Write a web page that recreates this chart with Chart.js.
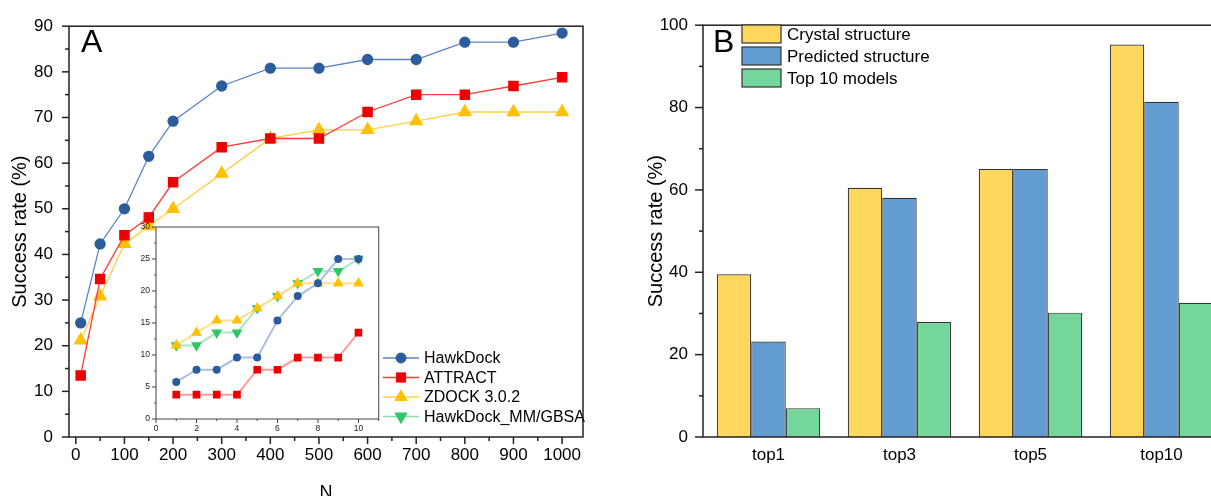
<!DOCTYPE html>
<html>
<head>
<meta charset="utf-8">
<script src="https://cdn.jsdelivr.net/npm/chart.js@4.4.0/dist/chart.umd.min.js"></script>
<style>
  html, body { margin: 0; padding: 0; background: #fff; overflow: hidden; }
  #wrap { position: relative; width: 1211px; height: 496px; overflow: hidden; }
  .box { position: absolute; }
  #boxA { left: 0; top: 0; }
  #boxInset { left: 130px; top: 215px; }
  #boxB { left: 600px; top: 0; }
</style>
</head>
<body>
<div id="wrap">
  <div class="box" id="boxA"><canvas id="chartA" width="600" height="520"></canvas></div>
  <div class="box" id="boxInset"><canvas id="chartInset" width="255" height="225"></canvas></div>
  <div class="box" id="boxB"><canvas id="chartB" width="640" height="520"></canvas></div>
</div>
<script>
// panel A, main plot
const nValues = [10, 50, 100, 150, 200, 300, 400, 500, 600, 700, 800, 900, 1000];
const hawkDock = [25.0, 42.3, 50.0, 61.5, 69.2, 76.9, 80.8, 80.8, 82.7, 82.7, 86.5, 86.5, 88.5];
const attract = [13.5, 34.6, 44.2, 48.1, 55.8, 63.5, 65.4, 65.4, 71.2, 75.0, 75.0, 76.9, 78.8];
const zdock = [21.2, 30.8, 42.3, 46.2, 50.0, 57.7, 65.4, 67.3, 67.3, 69.2, 71.2, 71.2, 71.2];

// panel A, inset (N = 1..10)
const insetN = [1, 2, 3, 4, 5, 6, 7, 8, 9, 10];
const insetHawkDock = [5.8, 7.7, 7.7, 9.6, 9.6, 15.4, 19.2, 21.2, 25.0, 25.0];
const insetAttract = [3.8, 3.8, 3.8, 3.8, 7.7, 7.7, 9.6, 9.6, 9.6, 13.5];
const insetZdock = [11.5, 13.5, 15.4, 15.4, 17.3, 19.2, 21.2, 21.2, 21.2, 21.2];
const insetMmgbsa = [11.5, 11.5, 13.5, 13.5, 17.3, 19.2, 21.2, 23.1, 23.1, 25.0];

// panel B
const topCategories = ['top1', 'top3', 'top5', 'top10'];
const crystal = [39.5, 60.5, 65.1, 95.3];
const predicted = [23.2, 58.1, 65.1, 81.4];
const top10Models = [7.0, 27.9, 30.2, 32.6];

// tick labels
const aXTicks = [0, 100, 200, 300, 400, 500, 600, 700, 800, 900, 1000];
const aYTicks = [0, 10, 20, 30, 40, 50, 60, 70, 80, 90];
const insetXTicks = [0, 2, 4, 6, 8, 10];
const insetYTicks = [0, 5, 10, 15, 20, 25, 30];
const bYTicks = [0, 20, 40, 60, 80, 100];

const FONT = "'Liberation Sans', Arial, sans-serif";
const mids = arr => arr.slice(1).map((v, i) => (v + arr[i]) / 2);
const pts = (xs, ys) => xs.map((x, i) => ({x: x, y: ys[i]}));
const fixTicks = list => s => { s.ticks = list.map(v => ({value: v})); };

function drawMarker(ctx, style, rot, x, y, r, fill, stroke) {
  ctx.beginPath();
  if (style === 'rect') {
    const s = r * Math.SQRT1_2;
    ctx.rect(x - s, y - s, 2 * s, 2 * s);
  } else if (style === 'triangle') {
    let a = rot * Math.PI / 180;
    for (let k = 0; k < 3; k++) {
      const px = x + Math.sin(a) * r, py = y - Math.cos(a) * r;
      k ? ctx.lineTo(px, py) : ctx.moveTo(px, py);
      a += 2 * Math.PI / 3;
    }
    ctx.closePath();
  } else {
    ctx.arc(x, y, r, 0, Math.PI * 2);
  }
  ctx.fillStyle = fill;
  ctx.fill();
  ctx.strokeStyle = stroke;
  ctx.lineWidth = 1;
  ctx.stroke();
}

// box around the plot + outward tick marks
const frameTicks = {
  id: 'frameTicks',
  afterDraw(chart, args, o) {
    const {ctx, chartArea: a} = chart;
    ctx.save();
    ctx.strokeStyle = o.color;
    ctx.lineWidth = o.width;
    ctx.strokeRect(a.left, a.top, a.right - a.left, a.bottom - a.top);
    (o.marks || []).forEach(t => {
      const s = chart.scales[t.axis];
      t.values.forEach(v => {
        const p = s.getPixelForValue(v);
        ctx.beginPath();
        if (s.isHorizontal()) { ctx.moveTo(p, a.bottom); ctx.lineTo(p, a.bottom + t.len); }
        else { ctx.moveTo(a.left, p); ctx.lineTo(a.left - t.len, p); }
        ctx.stroke();
      });
    });
    ctx.restore();
  }
};

const panelLabel = {
  id: 'panelLabel',
  afterDraw(chart, args, o) {
    if (!o.text) return;
    const ctx = chart.ctx;
    ctx.save();
    ctx.font = o.font;
    ctx.fillStyle = '#000';
    ctx.textBaseline = 'alphabetic';
    ctx.fillText(o.text, o.x, o.y);
    ctx.restore();
  }
};

const lineLegend = {
  id: 'lineLegend',
  afterDraw(chart, args, o) {
    if (!o.x) return;
    const ctx = chart.ctx;
    ctx.save();
    chart.data.datasets.forEach((ds, i) => {
      const y = o.y + i * o.gap;
      ctx.strokeStyle = ds.borderColor;
      ctx.lineWidth = ds.borderWidth;
      ctx.beginPath();
      ctx.moveTo(o.x, y);
      ctx.lineTo(o.x + o.len, y);
      ctx.stroke();
      drawMarker(ctx, ds.pointStyle, ds.pointRotation || 0, o.x + o.len / 2, y,
                 ds.pointRadius, ds.pointBackgroundColor, ds.pointBorderColor);
      ctx.font = o.font;
      ctx.fillStyle = '#000';
      ctx.textBaseline = 'middle';
      ctx.fillText(ds.label, o.x + o.len + o.pad, y + 1);
    });
    ctx.restore();
  }
};

const boxLegend = {
  id: 'boxLegend',
  afterDraw(chart, args, o) {
    if (!o.x) return;
    const ctx = chart.ctx;
    ctx.save();
    chart.data.datasets.forEach((ds, i) => {
      const y = o.y + i * o.gap;
      ctx.fillStyle = ds.backgroundColor;
      ctx.fillRect(o.x, y, o.w, o.h);
      ctx.strokeStyle = '#333';
      ctx.lineWidth = 1.2;
      ctx.strokeRect(o.x, y, o.w, o.h);
      ctx.font = o.font;
      ctx.fillStyle = '#000';
      ctx.textBaseline = 'middle';
      ctx.fillText(ds.label, o.x + o.w + o.pad, y + o.h / 2 + 1);
    });
    ctx.restore();
  }
};

function lineSet(label, data, line, mark, style, radius, rot, width) {
  return {
    label: label, data: data, borderColor: line, borderWidth: width,
    backgroundColor: mark, pointBackgroundColor: mark, pointBorderColor: mark,
    pointStyle: style, pointRadius: radius, pointRotation: rot, tension: 0
  };
}

new Chart(document.getElementById('chartA'), {
  type: 'line',
  data: {
    datasets: [
      lineSet('HawkDock', pts(nValues, hawkDock), '#5b82c2', '#2b5c9c', 'circle', 5, 0, 1.3),
      lineSet('ATTRACT', pts(nValues, attract), '#ff3b3b', '#ee0000', 'rect', 6.5, 0, 1.3),
      lineSet('ZDOCK 3.0.2', pts(nValues, zdock), '#ffcf40', '#ffc000', 'triangle', 7, 0, 1.3),
      lineSet('HawkDock_MM/GBSA', [], '#8fdcaa', '#2fc767', 'triangle', 7, 180, 1.3)
    ]
  },
  options: {
    responsive: false,
    animation: false,
    layout: {padding: {top: 20, right: 17, left: 0, bottom: 0}},
    plugins: {
      legend: {display: false},
      tooltip: {enabled: false},
      frameTicks: {
        color: '#222', width: 1.5,
        marks: [
          {axis: 'x', values: aXTicks, len: 7},
          {axis: 'x', values: mids(aXTicks), len: 4},
          {axis: 'y', values: aYTicks, len: 7},
          {axis: 'y', values: mids(aYTicks), len: 4}
        ]
      },
      panelLabel: {text: 'A', x: 81, y: 52, font: '32px ' + FONT},
      lineLegend: {x: 383, y: 358, gap: 19.5, len: 36, pad: 5, font: '16px ' + FONT}
    },
    scales: {
      x: {
        type: 'linear', min: -14, max: 1043,
        afterBuildTicks: fixTicks(aXTicks),
        afterFit: s => { s.height = 83; },
        grid: {display: false, drawTicks: false},
        border: {display: false},
        ticks: {padding: 8, color: '#000', font: {family: FONT, size: 17}, callback: v => String(v)},
        title: {display: true, text: 'N', color: '#000', font: {family: FONT, size: 18}, padding: {top: 0, bottom: 16}}
      },
      y: {
        min: 0, max: 90,
        afterBuildTicks: fixTicks(aYTicks),
        afterFit: s => { s.width = 69; },
        grid: {display: false, drawTicks: false},
        border: {display: false},
        ticks: {padding: 16, color: '#000', font: {family: FONT, size: 17}, callback: v => String(v)},
        title: {display: true, text: 'Success rate (%)', color: '#000', font: {family: FONT, size: 20}, padding: {top: 8, bottom: 0}}
      }
    }
  },
  plugins: [frameTicks, panelLabel, lineLegend]
});

new Chart(document.getElementById('chartInset'), {
  type: 'line',
  data: {
    datasets: [
      lineSet('HawkDock', pts(insetN, insetHawkDock), '#a9bfe2', '#2b5c9c', 'circle', 3, 0, 2),
      lineSet('ATTRACT', pts(insetN, insetAttract), '#ff9c9c', '#ee0000', 'rect', 4, 0, 2),
      lineSet('ZDOCK 3.0.2', pts(insetN, insetZdock), '#ffe08c', '#ffc000', 'triangle', 4.3, 0, 2),
      lineSet('HawkDock_MM/GBSA', pts(insetN, insetMmgbsa), '#ace6c2', '#2fc767', 'triangle', 4.3, 180, 2)
    ]
  },
  options: {
    responsive: false,
    animation: false,
    layout: {padding: {top: 12, right: 6, left: 0, bottom: 0}},
    plugins: {
      legend: {display: false},
      tooltip: {enabled: false},
      frameTicks: {
        color: '#444', width: 1,
        marks: [
          {axis: 'x', values: insetXTicks, len: 4},
          {axis: 'x', values: mids(insetXTicks).concat([11]), len: 2},
          {axis: 'y', values: insetYTicks, len: 4},
          {axis: 'y', values: mids(insetYTicks), len: 2}
        ]
      }
    },
    scales: {
      x: {
        type: 'linear', min: 0, max: 11,
        afterBuildTicks: fixTicks(insetXTicks),
        afterFit: s => { s.height = 21; },
        grid: {display: false, drawTicks: false},
        border: {display: false},
        ticks: {padding: 5, color: '#222', font: {family: FONT, size: 8.5}, callback: v => String(v)}
      },
      y: {
        min: 0, max: 30,
        afterBuildTicks: fixTicks(insetYTicks),
        afterFit: s => { s.width = 26; },
        grid: {display: false, drawTicks: false},
        border: {display: false},
        ticks: {padding: 6, color: '#222', font: {family: FONT, size: 8.5}, callback: v => String(v)}
      }
    }
  },
  plugins: [frameTicks]
});

new Chart(document.getElementById('chartB'), {
  type: 'bar',
  data: {
    labels: topCategories,
    datasets: [
      {label: 'Crystal structure', data: crystal, backgroundColor: '#ffd75c'},
      {label: 'Predicted structure', data: predicted, backgroundColor: '#629cd0'},
      {label: 'Top 10 models', data: top10Models, backgroundColor: '#74d69b'}
    ].map(d => Object.assign(d, {borderColor: '#333', borderWidth: 1.2, categoryPercentage: 0.79, barPercentage: 1}))
  },
  options: {
    responsive: false,
    animation: false,
    layout: {padding: {top: 20, right: 13, left: 0, bottom: 0}},
    plugins: {
      legend: {display: false},
      tooltip: {enabled: false},
      frameTicks: {
        color: '#222', width: 1.5,
        marks: [
          {axis: 'y', values: bYTicks, len: 8},
          {axis: 'y', values: mids(bYTicks), len: 4}
        ]
      },
      panelLabel: {text: 'B', x: 113, y: 52, font: '32px ' + FONT},
      boxLegend: {x: 142, y: 25, gap: 22, w: 39, h: 18, pad: 6, font: '17px ' + FONT}
    },
    scales: {
      x: {
        afterFit: s => { s.height = 83; },
        grid: {display: false, drawTicks: false},
        border: {display: false},
        ticks: {padding: 8, color: '#000', font: {family: FONT, size: 17}}
      },
      y: {
        min: 0, max: 100,
        afterBuildTicks: fixTicks(bYTicks),
        afterFit: s => { s.width = 103; },
        grid: {display: false, drawTicks: false},
        border: {display: false},
        ticks: {padding: 15, color: '#000', font: {family: FONT, size: 17}, callback: v => String(v)},
        title: {display: true, text: 'Success rate (%)', color: '#000', font: {family: FONT, size: 20}, padding: {top: 44, bottom: 0}}
      }
    }
  },
  plugins: [frameTicks, panelLabel, boxLegend]
});
</script>
</body>
</html>
